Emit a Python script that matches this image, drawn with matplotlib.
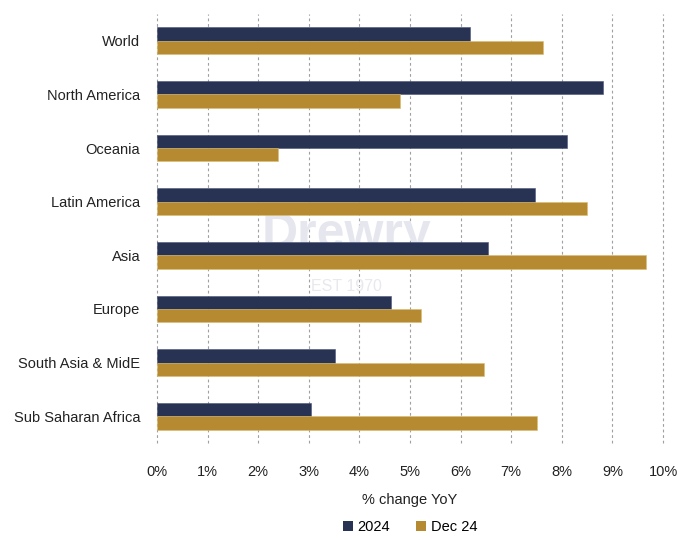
import matplotlib
matplotlib.use("Agg")
import matplotlib.pyplot as plt
import numpy as np
from matplotlib.patches import Patch

plt.rcParams['font.family'] = ['Liberation Sans', 'DejaVu Sans']

regions = ["World", "North America", "Oceania", "Latin America", "Asia",
           "Europe", "South Asia & MidE", "Sub Saharan Africa"]
v2024 = [6.19, 8.82, 8.11, 7.48, 6.55, 4.63, 3.51, 3.04]
vdec24 = [7.63, 4.80, 2.39, 8.50, 9.66, 5.21, 6.46, 7.51]
xticks = [0, 1, 2, 3, 4, 5, 6, 7, 8, 9, 10]
xticklabels = [f"{t}%" for t in xticks]

navy = "#283353"
gold = "#b68a30"

fig = plt.figure(figsize=(6.78, 5.40), dpi=100)
ax = fig.add_axes([157/678, 1-443/540, (663-157)/678, (443-14)/540])

y = np.arange(len(regions))
h = 0.25
ax.barh(y - h/2, v2024, height=h, color=navy, edgecolor="#4a5578", linewidth=0.4, zorder=3)
ax.barh(y + h/2, vdec24, height=h, color=gold, edgecolor="#d9bc70", linewidth=0.4, zorder=3)

ax.set_ylim(len(regions) - 0.5, -0.5)
ax.set_xlim(0, 10)
ax.set_yticks(y)
ax.set_yticklabels(regions, fontsize=10.5, color="#222222")
ax.set_xticks(xticks)
ax.set_xticklabels(xticklabels, fontsize=10.5, color="#222222")
ax.tick_params(axis='both', length=0)
ax.tick_params(axis='x', pad=16)
ax.tick_params(axis='y', pad=12)
for s in ax.spines.values():
    s.set_visible(False)
ax.grid(axis='x', color="#a0a0a0", linestyle=(0, (2.5, 2.5)), linewidth=0.8, zorder=0)
ax.set_axisbelow(True)
for gl in ax.get_xgridlines():
    gl.set_clip_on(False)

# faint watermark
ax.text(3.74, 3.62, "Drewry", fontsize=36, color="#e6e7ee", ha='center', va='center', zorder=1, fontweight='bold')
ax.text(3.74, 4.59, "EST 1970", fontsize=11.5, color="#e8e8ee", ha='center', va='center', zorder=1)

fig.text(410/678, 1-500/540, "% change YoY", ha='center', va='center', fontsize=10.5, color="#222222")

handles = [Patch(facecolor=navy, label="2024"), Patch(facecolor=gold, label="Dec 24")]
fig.legend(handles=handles, loc='center', bbox_to_anchor=(410/678, 1-527/540), ncol=2,
           frameon=False, fontsize=10.5, handlelength=0.7, handleheight=0.7,
           handletextpad=0.3, columnspacing=1.8)

fig.savefig("out.png", dpi=100)
